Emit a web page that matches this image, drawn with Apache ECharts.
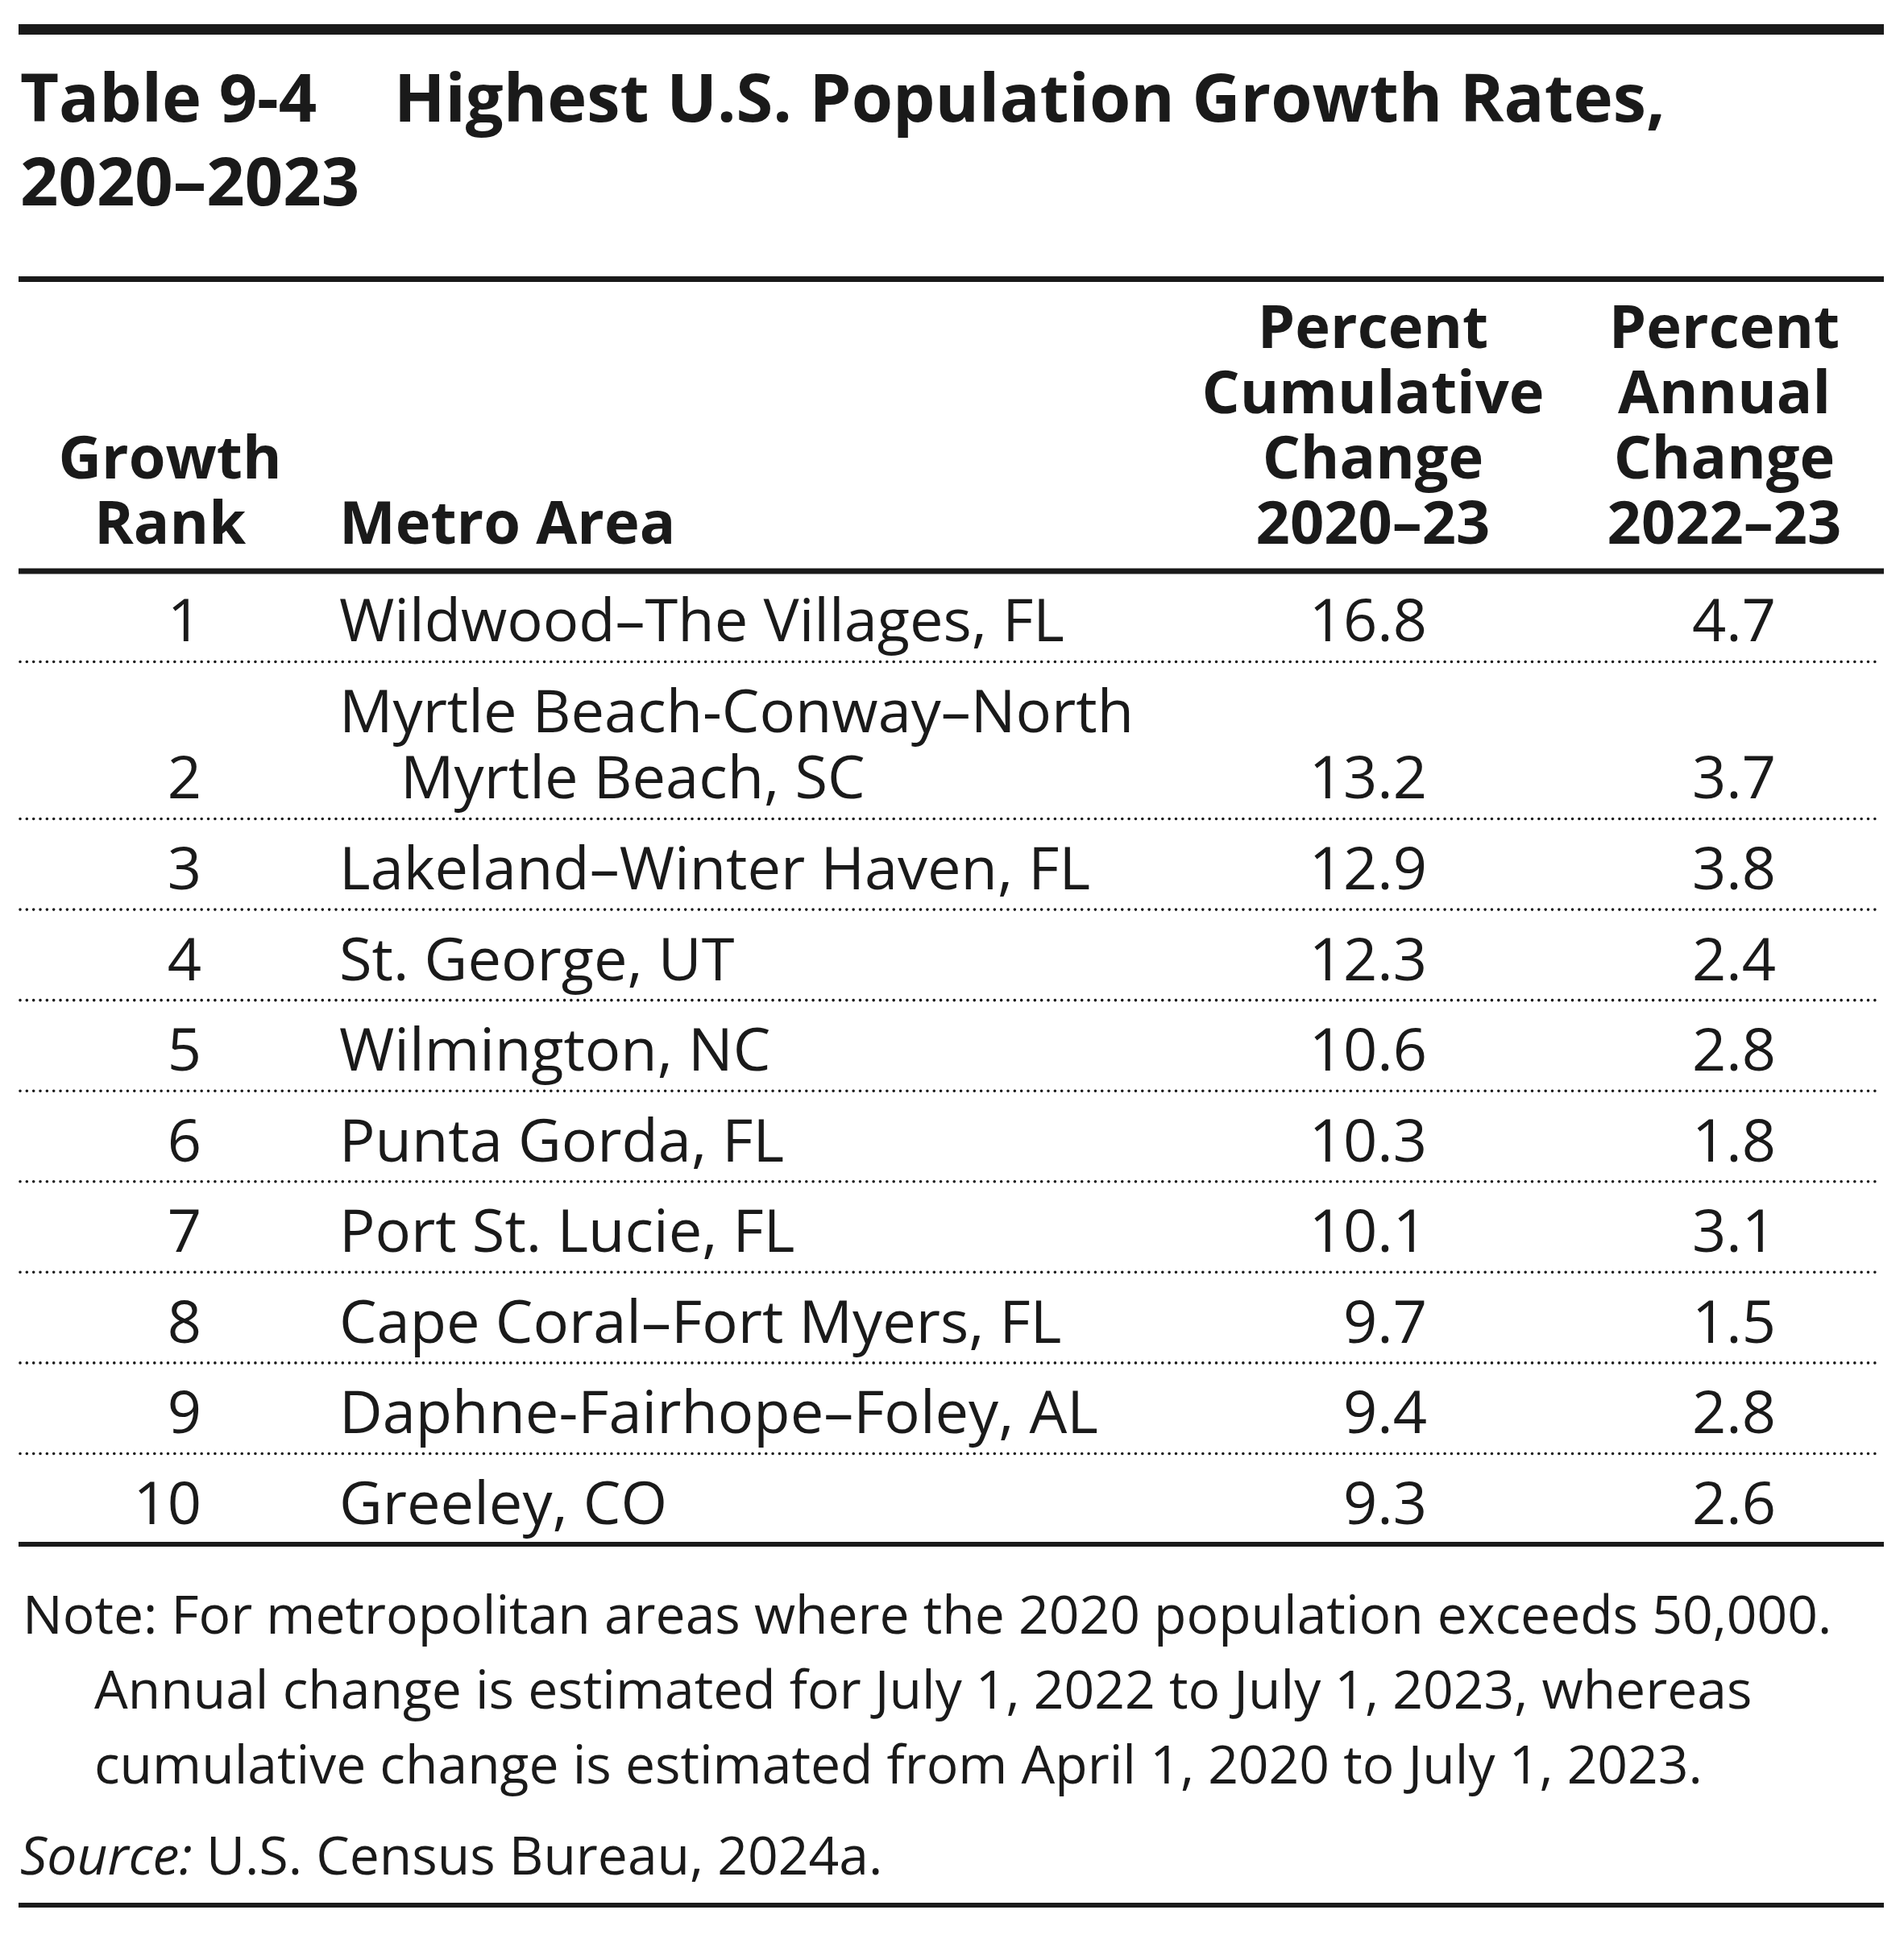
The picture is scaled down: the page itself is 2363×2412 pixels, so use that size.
<!DOCTYPE html>
<html lang="en">
<head>
    <meta charset="UTF-8">
    <title>Table 9-4</title>
    <script type="text/javascript" src="https://cdn.jsdelivr.net/npm/echarts@6/dist/echarts.min.js"></script>
    <style>
        html, body { margin: 0; padding: 0; background: #fff; }
        #container { width: 2363px; height: 2412px; }
    </style>
</head>
<body>
<div id="container"></div>
<script type="text/javascript">
    // table data
    var ranks = ['1', '2', '3', '4', '5', '6', '7', '8', '9', '10'];
    var metros = [
        'Wildwood–The Villages, FL',
        'Myrtle Beach-Conway–North\nMyrtle Beach, SC',
        'Lakeland–Winter Haven, FL',
        'St. George, UT',
        'Wilmington, NC',
        'Punta Gorda, FL',
        'Port St. Lucie, FL',
        'Cape Coral–Fort Myers, FL',
        'Daphne-Fairhope–Foley, AL',
        'Greeley, CO'
    ];
    var cumulative = ['16.8', '13.2', '12.9', '12.3', '10.6', '10.3', '10.1', '9.7', '9.4', '9.3'];
    var annual = ['4.7', '3.7', '3.8', '2.4', '2.8', '1.8', '3.1', '1.5', '2.8', '2.6'];

    var headRank = ['Growth', 'Rank'];
    var headMetro = ['Metro Area'];
    var headCum = ['Percent', 'Cumulative', 'Change', '2020–23'];
    var headAnn = ['Percent', 'Annual', 'Change', '2022–23'];

    var titleNo = 'Table 9-4';
    var titleLines = ['Highest U.S. Population Growth Rates,', '2020–2023'];
    var noteLines = [
        'Note: For metropolitan areas where the 2020 population exceeds 50,000.',
        'Annual change is estimated for July 1, 2022 to July 1, 2023, whereas',
        'cumulative change is estimated from April 1, 2020 to July 1, 2023.'
    ];
    var sourceLabel = 'Source:';
    var sourceText = ' U.S. Census Bureau, 2024a.';

    // layout
    var FONT = '"Open Sans", "Noto Sans", sans-serif';
    var INK = '#1a1a1a';
    var BODY_FS = 74, HEAD_FS = 74, TITLE_FS = 83, NOTE_FS = 66;
    var MID = 0.30;            // baseline -> middle offset (em)
    var RULE_L = 23, RULE_R = 2338;
    var X_RANK = 250, X_METRO = 421, X_INDENT = 497, X_CUM = 1771, X_ANN = 2204;
    var X_HRANK = 211, X_HCUM = 1704, X_HANN = 2140;
    var TABLE_TOP = 709, TABLE_BOTTOM = 1917;
    var EXTRA_LINE = 0.732;    // extra text line, in row units
    var BASE_PAD = 24, LINE_GAP = 82.5;

    var rowTop = [], rowH = [], acc = 0;
    for (var i = 0; i < metros.length; i++) {
        var n = metros[i].split('\n').length;
        rowTop.push(acc);
        rowH.push(1 + EXTRA_LINE * (n - 1));
        acc += rowH[i];
    }
    var totalUnits = acc;

    function txt(s, x, base, fs, align, weight, extra) {
        var st = {
            text: s, x: x, y: base - MID * fs,
            fill: INK, fontSize: fs, fontFamily: FONT,
            fontWeight: weight || 'normal',
            align: align || 'left', verticalAlign: 'middle'
        };
        if (extra) { for (var k in extra) st[k] = extra[k]; }
        return { type: 'text', style: st, silent: true };
    }
    function rule(y, w) {
        return {
            type: 'line', silent: true,
            shape: { x1: RULE_L, y1: y, x2: RULE_R, y2: y },
            style: { stroke: INK, lineWidth: w }
        };
    }

    var graphics = [
        rule(36.5, 13),
        rule(346.5, 7),
        rule(TABLE_TOP, 7),
        rule(TABLE_BOTTOM, 6),
        rule(2365, 6),
        txt(titleNo, 25, 152, TITLE_FS, 'left', 'bold'),
        txt(titleLines[0], 489, 152, TITLE_FS, 'left', 'bold'),
        txt(titleLines[1], 25, 256, TITLE_FS, 'left', 'bold')
    ];
    // header, bottom aligned
    var HEAD_BASE = 676, HEAD_GAP = 81;
    function headCol(lines, x, align) {
        for (var j = 0; j < lines.length; j++) {
            var b = HEAD_BASE - (lines.length - 1 - j) * HEAD_GAP;
            graphics.push(txt(lines[j], x, b, HEAD_FS, align, 'bold'));
        }
    }
    headCol(headRank, X_HRANK, 'center');
    headCol(headMetro, X_METRO, 'left');
    headCol(headCum, X_HCUM, 'center');
    headCol(headAnn, X_HANN, 'center');

    // notes
    var NOTE_BASE = 2029, NOTE_GAP = 93;
    for (var j = 0; j < noteLines.length; j++) {
        graphics.push(txt(noteLines[j], j === 0 ? 28 : 117, NOTE_BASE + j * NOTE_GAP, NOTE_FS, 'left'));
    }
    graphics.push(txt('{i|' + sourceLabel + '}' + sourceText, 25, 2328, NOTE_FS, 'left', 'normal', {
        rich: { i: { fontStyle: 'italic', fontSize: NOTE_FS, fontFamily: FONT, fill: INK } }
    }));

    var rows = [];
    for (var i = 0; i < ranks.length; i++) rows.push([i, rowTop[i], rowH[i]]);

    var dom = document.getElementById('container');
    var myChart = echarts.init(dom, null, { renderer: 'canvas' });

    var option = {
        animation: false,
        backgroundColor: '#fff',
        grid: { left: 0, right: 0, top: TABLE_TOP, height: TABLE_BOTTOM - TABLE_TOP },
        xAxis: { type: 'value', min: 0, max: 1, show: false },
        yAxis: { type: 'value', min: 0, max: totalUnits, inverse: true, show: false },
        graphic: graphics,
        series: [{
            type: 'custom',
            clip: false,
            data: rows,
            renderItem: function (params, api) {
                var idx = api.value(0);
                var top = api.value(1), h = api.value(2);
                var yBot = api.coord([0, top + h])[1];
                var base = yBot - BASE_PAD;
                var lines = metros[idx].split('\n');
                var kids = [];
                kids.push(txt(ranks[idx], X_RANK, base, BODY_FS, 'right'));
                for (var j = 0; j < lines.length; j++) {
                    var b = base - (lines.length - 1 - j) * LINE_GAP;
                    kids.push(txt(lines[j], j === 0 ? X_METRO : X_INDENT, b, BODY_FS, 'left'));
                }
                kids.push(txt(cumulative[idx], X_CUM, base, BODY_FS, 'right'));
                kids.push(txt(annual[idx], X_ANN, base, BODY_FS, 'right'));
                if (idx < ranks.length - 1) {
                    kids.push({
                        type: 'line', silent: true,
                        shape: { x1: RULE_L + 2, y1: yBot, x2: RULE_R - 6, y2: yBot },
                        style: { stroke: INK, lineWidth: 3.6, lineCap: 'round', lineDash: [0.01, 8.33] }
                    });
                }
                return { type: 'group', children: kids };
            }
        }]
    };

    myChart.setOption(option);
    window.addEventListener('resize', myChart.resize);
</script>
</body>
</html>
